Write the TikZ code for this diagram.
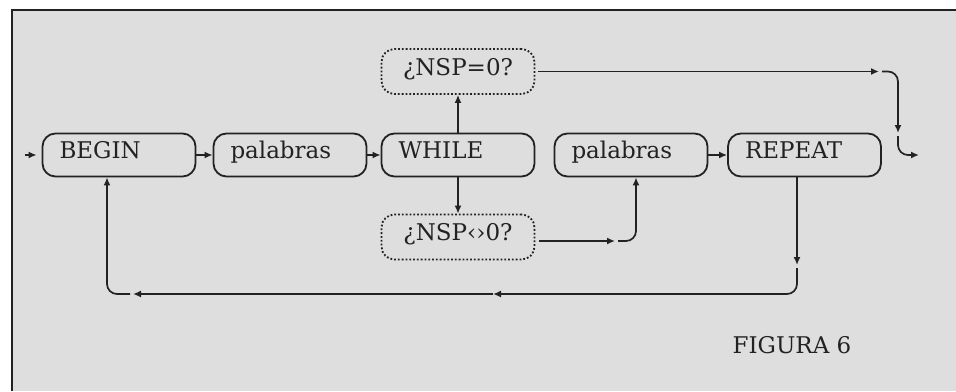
\documentclass[tikz,border=0pt]{standalone}
\usepackage{fontspec}
\setmainfont{DejaVu Serif}
\usetikzlibrary{arrows.meta,calc}
\definecolor{paper}{HTML}{DEDEDE}
\definecolor{ink}{HTML}{222222}
\tikzset{
  stepbox/.style={draw=ink, line width=1.8pt, rounded corners=13pt,
    minimum width=153pt, minimum height=43pt, inner xsep=17pt, inner ysep=0pt,
    text width=119pt, align=left, text height=0.73em, text depth=0pt,
    font=\fontsize{23}{27}\selectfont, text=ink},
  testbox/.style={stepbox, dotted, line width=1.8pt, align=center, minimum height=45pt},
  conn/.style={draw=ink, line width=1.7pt, -{Latex[length=8pt,width=7pt]}},
  cont/.style={conn, shorten <=3pt, rounded corners=10pt},
}
\begin{document}
\begin{tikzpicture}[x=1pt,y=-1pt]
\useasboundingbox (0,0) rectangle (956,391);
\fill[white] (0,0) rectangle (956,391);
\fill[paper] (12,10) rectangle (956,391);
\draw[ink, line width=2.4pt] (12,391) -- (12,10) -- (956,10);

\node[stepbox] (begin) at (119,155) {BEGIN};
\node[stepbox] (pal1) at (290,155) {palabras};
\node[stepbox] (while) at (458,155) {WHILE};
\node[stepbox] (pal2) at (631,155) {palabras};
\node[stepbox] (repeat) at (804.5,155) {REPEAT};
\node[testbox] (nsp0) at (458,71.5) {¿NSP=0?};
\node[testbox] (nspn) at (458,237) {¿NSP‹›0?};
\node[font=\fontsize{23}{27}\selectfont, text=ink] (fig) at (792,345) {FIGURA 6};

\coordinate (in) at (25,155);
\coordinate (c1) at (879,71.5);
\coordinate (c1b) at (898,71.5);
\coordinate (c2) at (898,133);
\coordinate (c2b) at (898,155);
\coordinate (out) at (919,155);
\coordinate (c3) at (615,241);
\coordinate (c5) at (797,265);
\coordinate (c6) at (493,294);
\coordinate (c7) at (133,294);

\draw[conn, shorten >=5pt] (in) -- (begin.west);
\draw[conn] (begin.east) -- (pal1.west);
\draw[conn] (pal1.east) -- (while.west);
\draw[conn] (pal2.east) -- (repeat.west);
\draw[conn] (while.north) -- (nsp0.south);
\draw[conn] (while.south) -- (nspn.north);

\draw[conn, shorten <=3pt] (nsp0.east) -- (c1);
\draw[cont] (c1) -- (c1b) -- (c2);
\draw[cont] (c2) -- (c2b) -- (out);

\draw[conn, shorten <=4pt] (nspn.east |- c3) -- (c3);
\draw[cont] (c3) -| ([xshift=5pt]pal2.south);

\draw[conn] ([xshift=-7.5pt]repeat.south) -- (c5);
\draw[cont] (c5) |- (c6);
\draw[conn] (c6) -- (c7);
\draw[cont] (c7) -| ([xshift=-12pt]begin.south);
\end{tikzpicture}
\end{document}
